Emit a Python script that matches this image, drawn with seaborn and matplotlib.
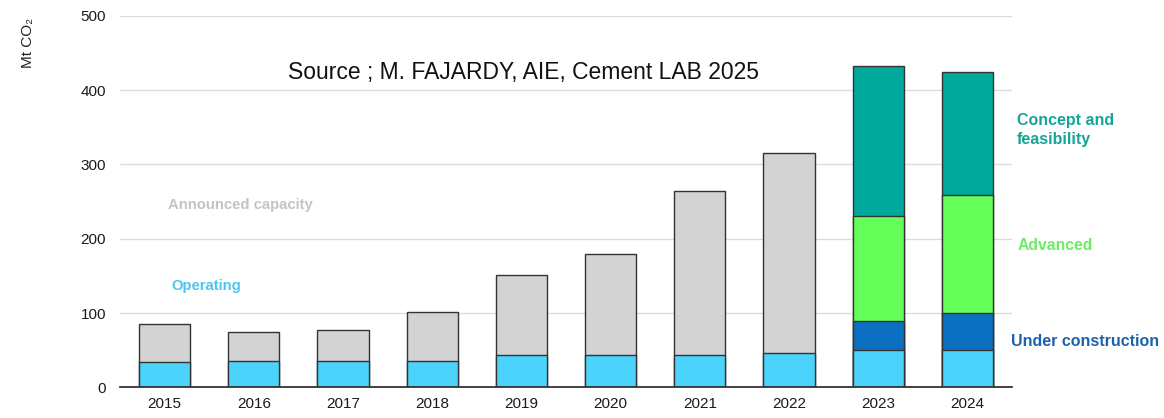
import matplotlib
matplotlib.use("Agg")
import matplotlib.pyplot as plt
import seaborn as sns
import numpy as np
import pandas as pd

years = ["2015", "2016", "2017", "2018", "2019", "2020", "2021", "2022", "2023", "2024"]
operating = [34, 35, 35, 36, 43, 44, 44, 46, 50, 50]
# announced capacity on top of operating (2015-2022 only)
announced = [51, 39, 42, 65, 108, 135, 220, 270]
# breakdown for 2023-2024
pipeline_years = ["2023", "2024"]
under_construction = [39, 50]
advanced = [141, 159]
concept = [203, 166]

c_oper = "#4cd3fb"
c_ann = "#d3d3d3"
c_uc = "#0b6fc2"
c_adv = "#66ff5a"
c_con = "#00a99b"
edge = "#333333"

sns.set_style("white")
plt.rcParams["font.family"] = ["Liberation Sans", "DejaVu Sans"]

fig = plt.figure(figsize=(11.64, 4.18), dpi=100)
ax = fig.add_axes([0.1031, 0.0734, 0.7663, 0.8888])

op = np.array(operating)
ann_top = op[:8] + np.array(announced)
uc_top = op[8:] + np.array(under_construction)
adv_top = uc_top + np.array(advanced)
con_top = adv_top + np.array(concept)

bar_kw = dict(order=years, width=0.575, edgecolor=edge, linewidth=1.0,
              saturation=1, ax=ax, zorder=3)

# draw cumulative layers from the top down so that each hides the one above
sns.barplot(x=pipeline_years, y=con_top, color=c_con, **bar_kw)
sns.barplot(x=years[:8], y=ann_top, color=c_ann, **bar_kw)
sns.barplot(x=pipeline_years, y=adv_top, color=c_adv, **bar_kw)
sns.barplot(x=pipeline_years, y=uc_top, color=c_uc, **bar_kw)
sns.barplot(x=years, y=operating, color=c_oper, **bar_kw)

ax.set_xlim(-0.5, 9.5)
ax.set_ylim(0, 500)
ax.set_yticks([0, 100, 200, 300, 400, 500])
ax.set_xlabel("")
ax.set_ylabel("")
for y in [100, 200, 300, 400, 500]:
    ax.axhline(y, color="#dcdcdc", lw=1.0, zorder=0)
sns.despine(ax=ax, left=True, top=True, right=True)
ax.spines["bottom"].set_color("#333333")
ax.spines["bottom"].set_linewidth(1.3)
ax.spines["bottom"].set_zorder(4)
ax.tick_params(axis="both", length=0, labelsize=11, colors="#1a1a1a")
ax.tick_params(axis="y", pad=10)
ax.tick_params(axis="x", pad=7)

W, H = 1164, 418
def ftext(x, y, s, **kw):
    fig.text(x / W, 1 - y / H, s, **kw)

ftext(28, 43, "Mt CO\u2082", rotation=90, ha="center", va="center", fontsize=11, color="#222222")
ftext(524, 72, "Source ; M. FAJARDY, AIE, Cement LAB 2025", ha="center", va="center", fontsize=16.5, color="#111111")
ftext(168, 205, "Announced capacity", ha="left", va="center", fontsize=10.7, fontweight="bold", color="#c4c4c4")
ftext(171, 286, "Operating", ha="left", va="center", fontsize=10.7, fontweight="bold", color="#4cc6f0")
ftext(1017, 130, "Concept and\nfeasibility", ha="left", va="center", fontsize=11.5, fontweight="bold", color="#15a596", linespacing=1.38)
ftext(1018, 246, "Advanced", ha="left", va="center", fontsize=11.3, fontweight="bold", color="#6aee62")
ftext(1011, 341, "Under construction", ha="left", va="center", fontsize=11.5, fontweight="bold", color="#1c63ad")

fig.savefig("out.png", dpi=100)
